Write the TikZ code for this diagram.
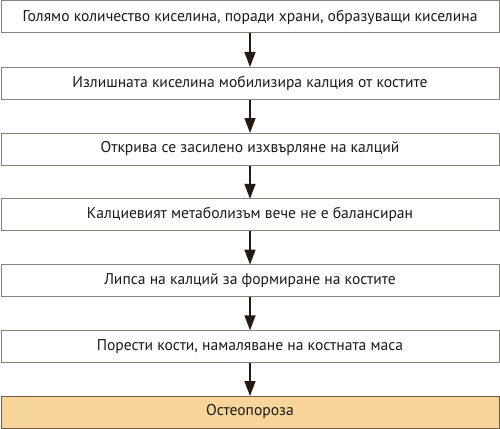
\documentclass[tikz,border=0pt]{standalone}
\usepackage{fontspec}
\setmainfont{PT Sans}
\usetikzlibrary{arrows.meta}
\definecolor{boxline}{HTML}{8A8279}
\definecolor{lastline}{HTML}{6E5C44}
\definecolor{lastfill}{HTML}{F7D499}
\definecolor{arrowcol}{HTML}{241A12}
\definecolor{txt}{HTML}{1E1A18}
\begin{document}
\begin{tikzpicture}[x=1pt,y=1pt,
  stepbox/.style={draw=boxline,line width=1pt,fill=white,minimum width=498pt,minimum height=32pt,inner sep=0pt,anchor=north,font=\fontsize{15.6}{18}\selectfont,text=txt},
  finalbox/.style={stepbox,draw=lastline,fill=lastfill},
  flow/.style={draw=arrowcol,line width=1.5pt,-{Triangle[width=11pt,length=15pt]},shorten >=-0.5pt}]
\useasboundingbox (0,0) rectangle (500,-428);
\node[stepbox] (b1) at (250,-0.5) {Голямо количество киселина, поради храни, образуващи киселина};
\node[stepbox] (b2) at (250,-66.5) {Излишната киселина мобилизира калция от костите};
\node[stepbox] (b3) at (250,-132.5) {Открива се засилено изхвърляне на калций};
\node[stepbox] (b4) at (250,-198.3) {Калциевият метаболизъм вече не е балансиран};
\node[stepbox] (b5) at (250,-264.1) {Липса на калций за формиране на костите};
\node[stepbox] (b6) at (250,-329.8) {Порести кости, намаляване на костната маса};
\node[finalbox] (b7) at (250,-395.5) {Остеопороза};
\foreach \a/\b in {b1/b2,b2/b3,b3/b4,b4/b5,b5/b6,b6/b7}
  \draw[flow] (\a.south) -- (\b.north);
\end{tikzpicture}
\end{document}
